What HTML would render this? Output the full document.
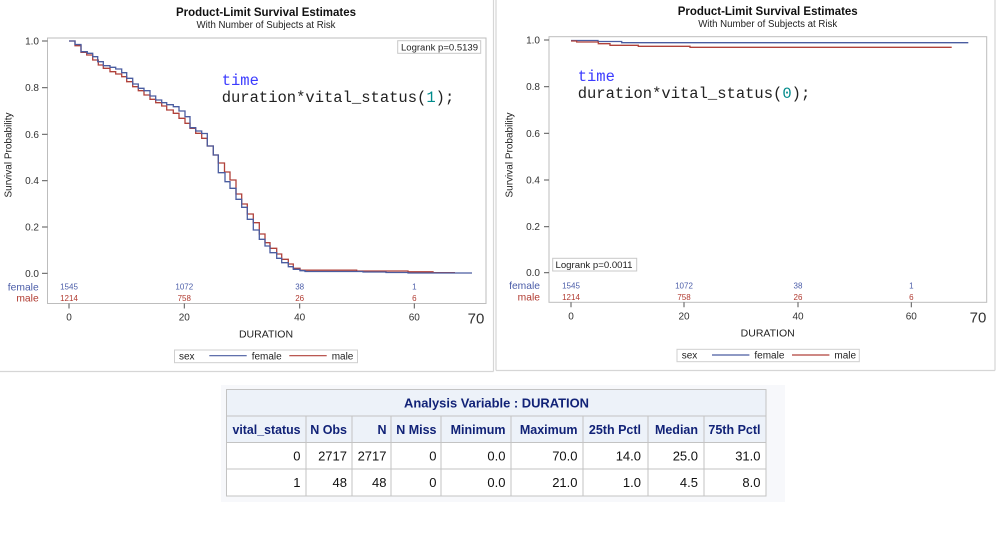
<!DOCTYPE html>
<html>
<head>
<meta charset="utf-8">
<style>
html,body{margin:0;padding:0;background:#fff;}
svg{display:block;}
text{font-family:"Liberation Sans",Arial,sans-serif;}
.mono{font-family:"Liberation Mono","Courier New",monospace;font-size:15.5px;}
.tk{font-size:10px;fill:#333;}
.num{font-size:8px;}
.th{font-size:12.5px;font-weight:bold;fill:#112277;}
.td{font-size:13px;fill:#111;}
</style>
</head>
<body>
<svg width="999" height="548" viewBox="0 0 999 548" xmlns="http://www.w3.org/2000/svg">
<rect x="0" y="0" width="999" height="548" fill="#fff"/>

<!-- panel borders -->
<line x1="493.5" y1="0" x2="493.5" y2="371.5" stroke="#d6d6d6" stroke-width="1.2"/>
<line x1="0" y1="371.5" x2="493.5" y2="371.5" stroke="#d6d6d6" stroke-width="1.2"/>
<line x1="496" y1="0" x2="496" y2="370.5" stroke="#d6d6d6" stroke-width="1.2"/>
<line x1="995" y1="0" x2="995" y2="370.5" stroke="#d6d6d6" stroke-width="1.2"/>
<line x1="496" y1="370.5" x2="995" y2="370.5" stroke="#d6d6d6" stroke-width="1.2"/>

<!-- ================= LEFT PLOT ================= -->
<text x="266" y="16" text-anchor="middle" font-size="12" font-weight="bold" fill="#111" textLength="180" lengthAdjust="spacingAndGlyphs">Product-Limit Survival Estimates</text>
<text x="266" y="27.8" text-anchor="middle" font-size="9.8" fill="#222" textLength="139" lengthAdjust="spacingAndGlyphs">With Number of Subjects at Risk</text>

<rect x="47.5" y="38" width="438.5" height="265.5" fill="none" stroke="#bdbdbd" stroke-width="1"/>

<!-- y ticks -->
<g stroke="#555" stroke-width="1">
<line x1="42" y1="41" x2="47.5" y2="41"/>
<line x1="42" y1="87.7" x2="47.5" y2="87.7"/>
<line x1="42" y1="134.3" x2="47.5" y2="134.3"/>
<line x1="42" y1="180.7" x2="47.5" y2="180.7"/>
<line x1="42" y1="227" x2="47.5" y2="227"/>
<line x1="42" y1="273.3" x2="47.5" y2="273.3"/>
<line x1="69" y1="303.5" x2="69" y2="308.5"/>
<line x1="184.3" y1="303.5" x2="184.3" y2="308.5"/>
<line x1="299.7" y1="303.5" x2="299.7" y2="308.5"/>
<line x1="414.3" y1="303.5" x2="414.3" y2="308.5"/>
</g>
<g class="tk" text-anchor="end">
<text x="39" y="44.5">1.0</text>
<text x="39" y="91.2">0.8</text>
<text x="39" y="137.8">0.6</text>
<text x="39" y="184.2">0.4</text>
<text x="39" y="230.5">0.2</text>
<text x="39" y="276.8">0.0</text>
</g>
<text transform="translate(11.5,155) rotate(-90)" text-anchor="middle" font-size="10" fill="#222">Survival Probability</text>

<g class="tk" text-anchor="middle">
<text x="69" y="320.3">0</text>
<text x="184.3" y="320.3">20</text>
<text x="299.7" y="320.3">40</text>
<text x="414.3" y="320.3">60</text>
</g>
<text x="476" y="323.5" text-anchor="middle" font-size="15" fill="#333">70</text>
<text x="266" y="337.7" text-anchor="middle" font-size="10.5" fill="#222">DURATION</text>

<!-- at risk -->
<text x="38.7" y="290.3" text-anchor="end" font-size="10.3" fill="#4a5ca8">female</text>
<text x="38.7" y="301.7" text-anchor="end" font-size="10.3" fill="#b03a30">male</text>
<g class="num" text-anchor="middle" fill="#4a5ca8">
<text x="69" y="289.6">1545</text>
<text x="184.3" y="289.6">1072</text>
<text x="299.7" y="289.6">38</text>
<text x="414.3" y="289.6">1</text>
</g>
<g class="num" text-anchor="middle" fill="#b03a30">
<text x="69" y="301">1214</text>
<text x="184.3" y="301">758</text>
<text x="299.7" y="301">26</text>
<text x="414.3" y="301">6</text>
</g>

<!-- logrank -->
<rect x="397.7" y="40.7" width="83" height="12.6" fill="#fff" stroke="#c8c8c8" stroke-width="1"/>
<text x="401" y="50.6" font-size="9.6" fill="#222" textLength="77" lengthAdjust="spacingAndGlyphs">Logrank p=0.5139</text>

<!-- code text -->
<text class="mono" x="221.7" y="85" fill="#3b3bff">time</text>
<text class="mono" x="221.7" y="102" fill="#222"><tspan>duration*vital_status(</tspan><tspan fill="#008b8b">1</tspan><tspan>);</tspan></text>

<!-- curves -->
<path fill="none" stroke="#b0413a" stroke-width="1.3" d="M69,41 H75 V45.7 H81 V52.3 H86.7 V55 H92.7 V60 H98.3 V65 H103.3 V68.3 H110 V71.7 H115.7 V74 H121.7 V76.7 H126.7 V81.7 H132.7 V86.7 H138.3 V90.7 H144 V95 H150 V99.3 H155.7 V102.7 H161.7 V106 H166.7 V110 H173.3 V113.3 H179 V118.3 H185 V123.3 H190 V128.3 H195.7 V133.3 H201.7 V138.3 H207.3 V146 H213.3 V155 H218.3 V163 H224.5 V172 H230 V180 H236 V194 H241.7 V204 H247.3 V214 H253.3 V222.7 H259.3 V234 H265 V242.7 H270 V248.3 H276.7 V254 H281.7 V259.3 H288.3 V264 H293.3 V268.3 H300 V270.2 H356.7 V271 H408 V271.8 H433 V272.6 H455"/>
<path fill="none" stroke="#4a5ca0" stroke-width="1.3" d="M69,41 H75 V44.5 H81 V51.7 H87.3 V53.3 H92.7 V56.7 H97.7 V61.7 H103.3 V65.7 H110 V67.3 H115.7 V69 H121.7 V72.7 H126.7 V78.3 H132.7 V84 H138.3 V88.3 H144 V90.7 H150 V96 H155.7 V100 H161.7 V102.7 H166.7 V104.7 H173.3 V106.7 H179 V111 H185 V116.7 H190 V127.7 H195.7 V131 H201.7 V133.5 H207.3 V146 H213.3 V155 H218.3 V172.7 H225 V181.7 H230 V188.3 H236 V199.3 H241.7 V207.3 H247.3 V219.3 H253.3 V230 H259.3 V239.3 H265 V246 H270 V252.7 H276.7 V258.3 H281.7 V262.7 H288.3 V266.7 H293.3 V269.3 H300 V270.7 H305 V271.5 H363 V272 H386 V272.5 H408 V273 H472"/>

<!-- legend -->
<rect x="174.5" y="350" width="183" height="12.7" fill="#fff" stroke="#cfcfcf" stroke-width="1"/>
<text x="179" y="359.3" font-size="10" fill="#222">sex</text>
<line x1="209.3" y1="355.7" x2="246.7" y2="355.7" stroke="#4a5ca0" stroke-width="1.2"/>
<text x="251.7" y="359.3" font-size="10" fill="#222">female</text>
<line x1="289.3" y1="355.7" x2="326.7" y2="355.7" stroke="#b0413a" stroke-width="1.2"/>
<text x="331.7" y="359.3" font-size="10" fill="#222">male</text>

<!-- ================= RIGHT PLOT ================= -->
<text x="767.7" y="15" text-anchor="middle" font-size="12" font-weight="bold" fill="#111" textLength="180" lengthAdjust="spacingAndGlyphs">Product-Limit Survival Estimates</text>
<text x="767.7" y="27.2" text-anchor="middle" font-size="9.8" fill="#222" textLength="139" lengthAdjust="spacingAndGlyphs">With Number of Subjects at Risk</text>

<rect x="549" y="36.7" width="437.7" height="265.6" fill="none" stroke="#bdbdbd" stroke-width="1"/>
<g stroke="#555" stroke-width="1">
<line x1="544" y1="40" x2="549" y2="40"/>
<line x1="544" y1="86.7" x2="549" y2="86.7"/>
<line x1="544" y1="133.3" x2="549" y2="133.3"/>
<line x1="544" y1="180" x2="549" y2="180"/>
<line x1="544" y1="226.7" x2="549" y2="226.7"/>
<line x1="544" y1="272.7" x2="549" y2="272.7"/>
<line x1="571" y1="302.3" x2="571" y2="307.3"/>
<line x1="684" y1="302.3" x2="684" y2="307.3"/>
<line x1="798" y1="302.3" x2="798" y2="307.3"/>
<line x1="911.3" y1="302.3" x2="911.3" y2="307.3"/>
</g>
<g class="tk" text-anchor="end">
<text x="540" y="43.5">1.0</text>
<text x="540" y="90.2">0.8</text>
<text x="540" y="136.8">0.6</text>
<text x="540" y="183.5">0.4</text>
<text x="540" y="230.2">0.2</text>
<text x="540" y="276.2">0.0</text>
</g>
<text transform="translate(512.5,155) rotate(-90)" text-anchor="middle" font-size="10" fill="#222">Survival Probability</text>

<g class="tk" text-anchor="middle">
<text x="571" y="319.6">0</text>
<text x="684" y="319.6">20</text>
<text x="798" y="319.6">40</text>
<text x="911.3" y="319.6">60</text>
</g>
<text x="978" y="322.5" text-anchor="middle" font-size="15" fill="#333">70</text>
<text x="767.7" y="336.4" text-anchor="middle" font-size="10.5" fill="#222">DURATION</text>

<text x="540" y="289" text-anchor="end" font-size="10.3" fill="#4a5ca8">female</text>
<text x="540" y="300.6" text-anchor="end" font-size="10.3" fill="#b03a30">male</text>
<g class="num" text-anchor="middle" fill="#4a5ca8">
<text x="571" y="288.3">1545</text>
<text x="684" y="288.3">1072</text>
<text x="798" y="288.3">38</text>
<text x="911.3" y="288.3">1</text>
</g>
<g class="num" text-anchor="middle" fill="#b03a30">
<text x="571" y="300">1214</text>
<text x="684" y="300">758</text>
<text x="798" y="300">26</text>
<text x="911.3" y="300">6</text>
</g>

<rect x="552.7" y="258.3" width="84" height="12.7" fill="#fff" stroke="#c8c8c8" stroke-width="1"/>
<text x="555.5" y="268.2" font-size="9.6" fill="#222" textLength="77" lengthAdjust="spacingAndGlyphs">Logrank p=0.0011</text>

<text class="mono" x="577.7" y="81" fill="#3b3bff">time</text>
<text class="mono" x="577.7" y="98" fill="#222"><tspan>duration*vital_status(</tspan><tspan fill="#008b8b">0</tspan><tspan>);</tspan></text>

<path fill="none" stroke="#4a5ca0" stroke-width="1.3" d="M571,40.5 H598 V41.5 H621.7 V42.7 H968.3"/>
<path fill="none" stroke="#b0413a" stroke-width="1.3" d="M571,41 H576.7 V42 H598.3 V43.7 H610 V45.3 H638.3 V46.3 H690 V47.3 H951.7"/>

<rect x="677" y="349.3" width="182.3" height="12.4" fill="#fff" stroke="#cfcfcf" stroke-width="1"/>
<text x="681.7" y="358.6" font-size="10" fill="#222">sex</text>
<line x1="712" y1="355" x2="749.4" y2="355" stroke="#4a5ca0" stroke-width="1.2"/>
<text x="754.4" y="358.6" font-size="10" fill="#222">female</text>
<line x1="792" y1="355" x2="829.4" y2="355" stroke="#b0413a" stroke-width="1.2"/>
<text x="834.4" y="358.6" font-size="10" fill="#222">male</text>

<!-- ================= TABLE ================= -->
<rect x="221" y="385" width="564" height="117" fill="#f7f8fb"/>
<rect x="226.5" y="389.5" width="539.5" height="53" fill="#edf2f9"/>
<rect x="226.5" y="442.5" width="539.5" height="53.5" fill="#fff"/>
<g stroke="#c3c3c3" stroke-width="1" fill="none">
<rect x="226.5" y="389.5" width="539.5" height="106.5"/>
<line x1="226.5" y1="416" x2="766" y2="416"/>
<line x1="226.5" y1="442.5" x2="766" y2="442.5"/>
<line x1="226.5" y1="469" x2="766" y2="469"/>
<line x1="306" y1="416" x2="306" y2="496"/>
<line x1="352" y1="416" x2="352" y2="496"/>
<line x1="391" y1="416" x2="391" y2="496"/>
<line x1="441" y1="416" x2="441" y2="496"/>
<line x1="511" y1="416" x2="511" y2="496"/>
<line x1="583" y1="416" x2="583" y2="496"/>
<line x1="648" y1="416" x2="648" y2="496"/>
<line x1="704" y1="416" x2="704" y2="496"/>
</g>
<text x="496.5" y="407.5" text-anchor="middle" class="th" textLength="185" lengthAdjust="spacingAndGlyphs">Analysis Variable : DURATION</text>
<g class="th" text-anchor="end">
<text x="300.5" y="433.8" textLength="68" lengthAdjust="spacingAndGlyphs">vital_status</text>
<text x="347" y="433.8">N Obs</text>
<text x="386.5" y="433.8">N</text>
<text x="436.5" y="433.8">N Miss</text>
<text x="505.5" y="433.8">Minimum</text>
<text x="577.5" y="433.8">Maximum</text>
<text x="641" y="433.8">25th Pctl</text>
<text x="698" y="433.8">Median</text>
<text x="760.5" y="433.8">75th Pctl</text>
</g>
<g class="td" text-anchor="end">
<text x="300.5" y="460.7">0</text>
<text x="347" y="460.7">2717</text>
<text x="386.5" y="460.7">2717</text>
<text x="436.5" y="460.7">0</text>
<text x="505.5" y="460.7">0.0</text>
<text x="577.5" y="460.7">70.0</text>
<text x="641" y="460.7">14.0</text>
<text x="698" y="460.7">25.0</text>
<text x="760.5" y="460.7">31.0</text>
<text x="300.5" y="487.2">1</text>
<text x="347" y="487.2">48</text>
<text x="386.5" y="487.2">48</text>
<text x="436.5" y="487.2">0</text>
<text x="505.5" y="487.2">0.0</text>
<text x="577.5" y="487.2">21.0</text>
<text x="641" y="487.2">1.0</text>
<text x="698" y="487.2">4.5</text>
<text x="760.5" y="487.2">8.0</text>
</g>
</svg>
</body>
</html>
